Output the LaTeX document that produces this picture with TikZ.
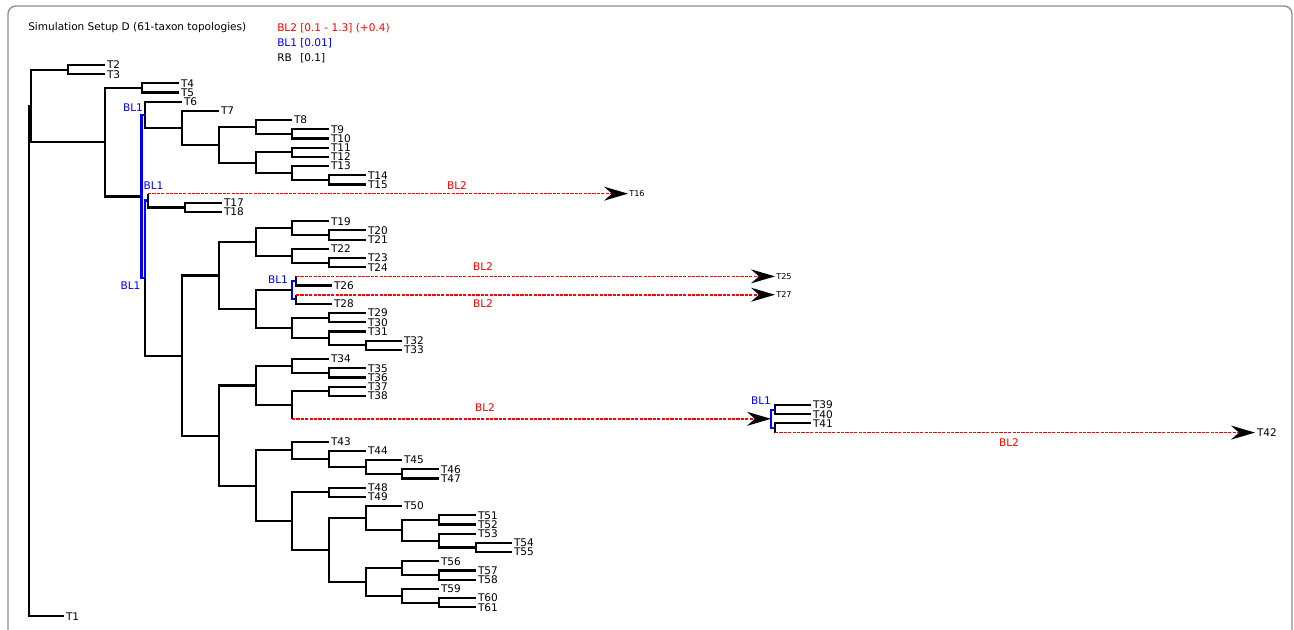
\documentclass[tikz,border=0pt]{standalone}
\usepackage{fontspec}
\setmainfont{DejaVu Sans}
\usetikzlibrary{arrows.meta}
\newcommand{\lblfont}{\fontsize{7.9}{9}\selectfont}
\newcommand{\tinylbl}{\fontsize{6.1}{7}\selectfont}
\tikzset{
  rb/.style={line width=1.6pt},
  bl1/.style={rb,blue},
  bl2/.style={red,line width=1.15pt,dash pattern=on 2.4pt off 0.9pt,-{Stealth[length=18pt,width=10.5pt,inset=6pt,black]}},
  leaf/.style={anchor=west,inner xsep=1.3pt,inner ysep=0pt,font=\lblfont},
  tipleaf/.style={leaf,inner xsep=0.8pt,font=\tinylbl},
  bllbl/.style={font=\lblfont,inner sep=0pt},
  legtxt/.style={anchor=west,font=\lblfont,inner sep=0pt},
  boxframe/.style={draw=black!45,line width=1pt,rounded corners=6pt}
}
\begin{document}
\begin{tikzpicture}[x=0.75pt,y=-0.75pt]
  \useasboundingbox (0,0) rectangle (1294,630);
  \clip (0,0) rectangle (1294,630);
  % Frame
  \draw[boxframe] (8,6) rectangle (1292,660);

  % Legend
  \node[legtxt] (title) at (28,28) {Simulation Setup D (61-taxon topologies)};
  \node[legtxt,text=red] (key2) at (277,28) {BL2};
  \node[legtxt,text=red] (val2) at (300,28) {[0.1 - 1.3] (+0.4)};
  \node[legtxt,text=blue] (key1) at (277,43) {BL1};
  \node[legtxt,text=blue] (val1) at (300,43) {[0.01]};
  \node[legtxt] (keyrb) at (277,58) {RB};
  \node[legtxt] (valrb) at (300,58) {[0.1]};

  \begin{scope}[y=-6.8925pt,yshift=-34.965pt]
    % Internal nodes (x in px, y in leaf slots)
    \foreach \n/\x/\y in {r/29/34.2254, c2x61/31/6.4508, c2x3/68/2.5, c4x61/105/10.4016,
      c4x5/142/4.5, c6x61/141.5/16.3032, c6x15/145/7.4219, c7x15/182/8.8438,
      c8x15/219/10.6875, c8x10/256/8.75, c9x10/292/9.5, c11x15/256/12.625,
      c11x12/292/11.5, c13x15/292/13.75, c14x15/329/14.5, c16x61/145/25.1846,
      c16x18/148/16.75, c17x18/185/17.5, c19x61/182/33.6191, c19x33/219/24.9063,
      c19x24/256/21.25, c19x21/292/19.75, c20x21/329/20.5, c22x24/292/22.75,
      c23x24/329/23.5, c25x33/256/28.5625, c25x28/292/26.5, c25x26/296/25.5,
      c27x28/296/27.5, c29x33/292/30.625, c29x30/329/29.5, c31x33/329/31.75,
      c32x33/366/32.5, c34x61/219/42.332, c34x42/256/36.875, c34x36/292/34.75,
      c35x36/329/35.5, c37x42/292/39, c37x38/329/37.5, c39x42/771/40.5,
      c39x40/775/39.5, c41x42/775/41.5, c43x61/256/47.7891, c43x47/292/43.9375,
      c44x47/329/44.875, c45x47/366/45.75, c46x47/402/46.5, c48x61/292/51.6406,
      c48x49/329/48.5, c50x61/329/54.7813, c50x55/366/51.3125, c51x55/402/52.625,
      c51x52/439/51.5, c53x55/439/53.75, c54x55/476/54.5, c56x61/366/58.25,
      c56x58/402/56.75, c57x58/439/57.5, c59x61/402/59.75, c60x61/439/60.5}
      \coordinate (\n) at (\x,\y);

    % Leaves
    \foreach \i/\x in {2/105, 3/105, 4/179, 5/179, 6/182, 7/219, 8/292, 9/329, 10/329,
      11/329, 12/329, 13/329, 14/366, 15/366, 17/222, 18/222, 19/329, 20/366, 21/366,
      22/329, 23/366, 24/366, 26/332, 28/332, 29/366, 30/366, 31/366, 32/402, 33/402,
      34/329, 35/366, 36/366, 37/366, 38/366, 39/811, 40/811, 41/811, 43/329, 44/366,
      45/402, 46/439, 47/439, 48/366, 49/366, 50/402, 51/476, 52/476, 53/476, 54/512,
      55/512, 56/439, 57/476, 58/476, 59/439, 60/476, 61/476}
      \node[leaf] (t\i) at (\x,\i) {T\i};
    \node[leaf] (t1) at (64,62) {T1};
    \node[tipleaf] (t16) at (628,16) {T16};
    \node[tipleaf] (t25) at (775,25) {T25};
    \node[tipleaf] (t27) at (775,27) {T27};
    \node[leaf] (t42) at (1255,42) {T42};

    % RB branches
    \foreach \pa/\ch in {r/c2x61, r/t1, c2x61/c2x3, c2x61/c4x61, c2x3/t2, c2x3/t3,
      c4x61/c4x5, c4x61/c6x61, c4x5/t4, c4x5/t5, c6x15/t6, c6x15/c7x15,
      c7x15/t7, c7x15/c8x15, c8x15/c8x10, c8x15/c11x15, c8x10/t8, c8x10/c9x10,
      c9x10/t9, c9x10/t10, c11x15/c11x12, c11x15/c13x15, c11x12/t11, c11x12/t12,
      c13x15/t13, c13x15/c14x15, c14x15/t14, c14x15/t15, c16x61/c19x61,
      c16x18/c17x18, c17x18/t17, c17x18/t18, c19x61/c19x33, c19x61/c34x61,
      c19x33/c19x24, c19x33/c25x33, c19x24/c19x21, c19x24/c22x24,
      c19x21/t19, c19x21/c20x21, c20x21/t20, c20x21/t21, c22x24/t22, c22x24/c23x24,
      c23x24/t23, c23x24/t24, c25x33/c25x28, c25x33/c29x33, c25x26/t26, c27x28/t28,
      c29x33/c29x30, c29x33/c31x33, c29x30/t29, c29x30/t30, c31x33/t31, c31x33/c32x33,
      c32x33/t32, c32x33/t33, c34x61/c34x42, c34x61/c43x61, c34x42/c34x36, c34x42/c37x42,
      c34x36/t34, c34x36/c35x36, c35x36/t35, c35x36/t36, c37x42/c37x38,
      c37x38/t37, c37x38/t38, c39x40/t39, c39x40/t40, c41x42/t41,
      c43x61/c43x47, c43x61/c48x61, c43x47/t43, c43x47/c44x47, c44x47/t44, c44x47/c45x47,
      c45x47/t45, c45x47/c46x47, c46x47/t46, c46x47/t47, c48x61/c48x49, c48x61/c50x61,
      c48x49/t48, c48x49/t49, c50x61/c50x55, c50x61/c56x61, c50x55/t50, c50x55/c51x55,
      c51x55/c51x52, c51x55/c53x55, c51x52/t51, c51x52/t52, c53x55/t53, c53x55/c54x55,
      c54x55/t54, c54x55/t55, c56x61/c56x58, c56x61/c59x61, c56x58/t56, c56x58/c57x58,
      c57x58/t57, c57x58/t58, c59x61/t59, c59x61/c60x61, c60x61/t60, c60x61/t61}
      \draw[rb] (\pa) |- (\ch);

    % BL1 branches
    \foreach \pa/\ch in {c6x61/c6x15, c6x61/c16x61, c16x61/c16x18, c25x28/c25x26,
      c25x28/c27x28, c39x42/c39x40, c39x42/c41x42}
      \draw[bl1] (\pa) |- (\ch);

    % BL2 branches
    \foreach \pa/\ch in {c16x18/t16, c25x26/t25, c27x28/t27, c37x42/c39x42, c41x42/t42} {
      \draw[rb] (\pa) -- (\pa |- \ch);
      \draw[bl2] (\pa |- \ch) -- (\ch);
    }
  \end{scope}

  % Branch labels
  \node[bllbl,text=blue] (b1a) at (133,108) {BL1};
  \node[bllbl,text=blue] (b1b) at (153.5,186) {BL1};
  \node[bllbl,text=blue] (b1c) at (130.5,286) {BL1};
  \node[bllbl,text=blue] (b1d) at (278,280) {BL1};
  \node[bllbl,text=blue] (b1e) at (761,401) {BL1};
  \node[bllbl,text=red] (b2a) at (457,186) {BL2};
  \node[bllbl,text=red] (b2b) at (483,267) {BL2};
  \node[bllbl,text=red] (b2c) at (483,304) {BL2};
  \node[bllbl,text=red] (b2d) at (485,408) {BL2};
  \node[bllbl,text=red] (b2e) at (1009,443) {BL2};
\end{tikzpicture}
\end{document}
